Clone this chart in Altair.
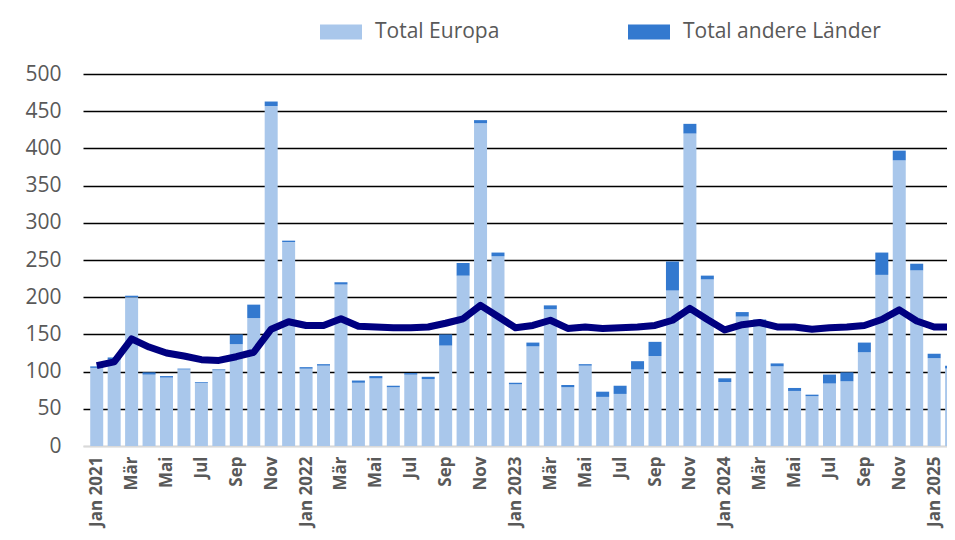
import json
import altair as alt
import pandas as pd

# ---- data ----
months = ["Jan 2021", "Feb", "Mär", "Apr", "Mai", "Jun", "Jul", "Aug", "Sep", "Okt", "Nov", "Dez",
          "Jan 2022", "Feb", "Mär", "Apr", "Mai", "Jun", "Jul", "Aug", "Sep", "Okt", "Nov", "Dez",
          "Jan 2023", "Feb", "Mär", "Apr", "Mai", "Jun", "Jul", "Aug", "Sep", "Okt", "Nov", "Dez",
          "Jan 2024", "Feb", "Mär", "Apr", "Mai", "Jun", "Jul", "Aug", "Sep", "Okt", "Nov", "Dez",
          "Jan 2025", "Feb"]

europa = [105, 116, 200, 96, 92, 103, 85, 102, 137, 172, 457, 274,
          104, 108, 217, 85, 91, 79, 96, 90, 135, 229, 434, 255,
          83, 134, 184, 79, 108, 66, 70, 103, 121, 209, 420, 224,
          86, 174, 168, 107, 74, 67, 84, 87, 126, 230, 384, 236,
          118, 104]

andere = [2, 3, 2, 3, 2, 1, 1, 1, 13, 18, 6, 2,
          2, 2, 3, 3, 3, 2, 2, 3, 15, 17, 4, 5,
          2, 5, 5, 3, 2, 7, 11, 11, 19, 39, 13, 5,
          5, 6, 2, 4, 4, 2, 12, 12, 13, 30, 13, 9,
          6, 4]

durchschnitt = [108, 113, 144, 133, 125, 121, 116, 115, 120, 126, 157, 167,
                162, 162, 171, 161, 160, 159, 159, 160, 165, 171, 189, 174,
                159, 162, 169, 158, 160, 158, 159, 160, 162, 169, 185, 170,
                156, 163, 166, 160, 160, 157, 159, 160, 162, 170, 183, 168,
                160, 160]

series_names = ["Total Europa", "Total andere Länder"]
series_colors = ["#a9c7eb", "#3379cf"]

# ---- tables ----
rows = []
for i in range(len(months)):
    rows.append({"idx": i, "series": series_names[0], "value": europa[i], "ord": 0})
    rows.append({"idx": i, "series": series_names[1], "value": andere[i], "ord": 1})
df_bars = pd.DataFrame(rows)
df_line = pd.DataFrame({"idx": list(range(len(months))), "avg": durchschnitt})

FONT = "Open Sans"
GRAY = "#595959"

xscale = alt.Scale(domain=[-0.5, 48.45], nice=False, zero=False)
yscale = alt.Scale(domain=[0, 500], nice=False)

label_expr = json.dumps(months, ensure_ascii=False) + "[datum.value]"

x_axis = alt.Axis(values=list(range(0, 49, 2)), labelExpr=label_expr, labelAngle=-90,
                  title=None, ticks=False, grid=False, domainColor="#d9d9d9", domainWidth=2,
                  labelFont=FONT, labelFontSize=17, labelFontWeight="bold", labelColor=GRAY,
                  labelPadding=10, labelOverlap=False, labelFlush=False, labelBound=False)

y_axis = alt.Axis(values=list(range(0, 501, 50)), title=None, ticks=False, domain=False,
                  gridColor=alt.condition("datum.value == 0", alt.value("#d9d9d9"), alt.value("black")),
                  gridWidth=1.5, labelFont=FONT, labelFontSize=21, labelColor=GRAY, labelPadding=22,
                  labelOverlap=False, labelFlush=False)

bars = alt.Chart(df_bars).mark_bar(size=13, clip=True).encode(
    x=alt.X("idx:Q", scale=xscale, axis=x_axis),
    y=alt.Y("value:Q", stack="zero", scale=yscale, axis=y_axis),
    color=alt.Color("series:N", scale=alt.Scale(domain=series_names, range=series_colors),
                    legend=alt.Legend(orient="none", legendX=237, legendY=-63, direction="horizontal",
                                      title=None, symbolType="M-1,-0.36H1V0.36H-1Z", symbolSize=1764,
                                      symbolStrokeWidth=0, symbolOpacity=1, labelFont=FONT,
                                      labelFontSize=21, labelColor=GRAY, labelOffset=13,
                                      labelLimit=400, columnPadding=128, padding=0)),
    order=alt.Order("ord:Q"),
)

line = alt.Chart(df_line).mark_line(clip=True, color="#000080", strokeWidth=7, strokeJoin="round").encode(
    x=alt.X("idx:Q", scale=xscale, axis=x_axis),
    y=alt.Y("avg:Q", scale=yscale, axis=y_axis),
)

chart = alt.layer(bars, line).properties(
    width=864, height=372,
    autosize=alt.AutoSizeParams(type="none"),
    padding={"left": 75, "top": 66, "right": 0, "bottom": 94},
).configure_view(stroke=None)

chart.save("out.html", embed_options={"renderer": "svg", "actions": False})
